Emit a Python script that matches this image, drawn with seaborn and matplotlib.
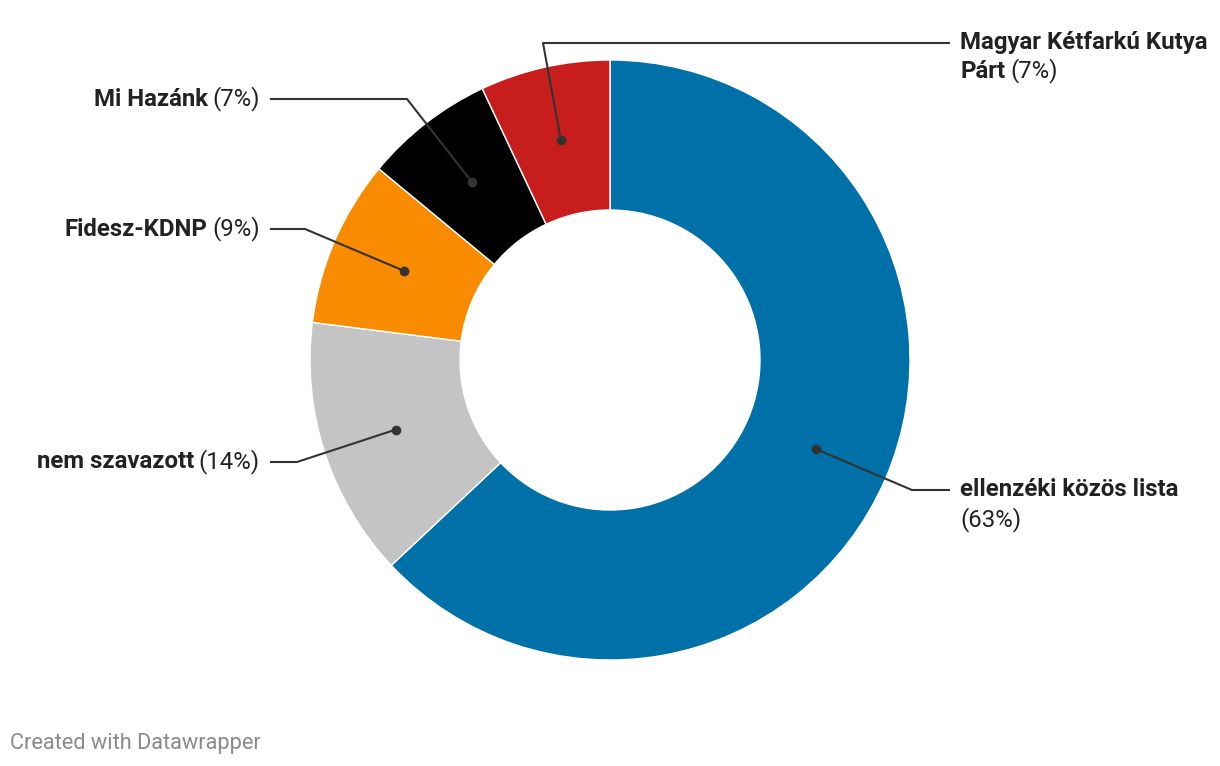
"""Donut chart: Hungarian party vote shares."""

import numpy as np
import matplotlib
matplotlib.use('Agg')
import matplotlib.pyplot as plt
import seaborn as sns

sns.set_theme(style="white")
plt.rcParams['font.family'] = ['Roboto', 'DejaVu Sans']

# Data (clockwise from 12 o'clock)
parties = ['ellenzéki közös lista', 'nem szavazott', 'Fidesz-KDNP',
           'Mi Hazánk', 'Magyar Kétfarkú Kutya Párt']
label_lines = [['ellenzéki közös lista', ''], ['nem szavazott'], ['Fidesz-KDNP'],
               ['Mi Hazánk'], ['Magyar Kétfarkú Kutya', 'Párt']]
shares = [63, 14, 9, 7, 7]
colors = ['#0070a8', '#c4c4c4', '#f88b00', '#000000', '#c71e1d']

# label layout in pixel space: (side, label y, elbow x)
label_layout = [('right', 490, 912), ('left', 462, 297), ('left', 229, 305),
                ('left', 99, 407), ('right', 43, 543)]

FS = 17.3
W, H = 1220, 766
fig = plt.figure(figsize=(W / 100, H / 100), dpi=100)
ax = fig.add_axes([0, 0, 1, 1])
ax.set_xlim(0, W)
ax.set_ylim(0, H)
ax.set_aspect('equal')
ax.axis('off')

cx, cy = 610, H - 360
r_out, ring = 300, 150

ax.pie(shares, colors=colors, startangle=90, counterclock=False,
       center=(cx, cy), radius=r_out,
       wedgeprops=dict(width=ring, edgecolor='white', linewidth=1))
ax.set_xlim(0, W)
ax.set_ylim(0, H)

total = sum(shares)
start = 90.0
r_mid = r_out - ring / 2
for lines, val, (side, ly, ex) in zip(label_lines, shares, label_layout):
    sweep = 360.0 * val / total
    mid = np.deg2rad(start - sweep / 2)
    start -= sweep
    dx, dy = cx + r_mid * np.cos(mid), cy + r_mid * np.sin(mid)
    ly = H - ly
    if side == 'right':
        hx, tx = 950, 960
    else:
        hx, tx = 270, 260
    ax.plot([dx, ex, hx], [dy, ly, ly], color='#333333', lw=1.5,
            solid_capstyle='butt', zorder=3)
    ax.plot(dx, dy, 'o', color='#333333', ms=6, zorder=4)

    pct = f'({val}%)'
    if side == 'left':
        t = ax.text(tx, ly, pct, ha='right', va='center', fontsize=FS,
                    color='#222222')
        fig.canvas.draw()
        bb = t.get_window_extent()
        ax.text(bb.x0 - 5, ly, lines[0], ha='right', va='center', fontsize=FS,
                fontweight='bold', color='#222222')
    elif lines[1] == '':
        ax.text(tx, ly, lines[0], ha='left', va='center', fontsize=FS,
                fontweight='bold', color='#222222')
        ax.text(tx, ly - 30, pct, ha='left', va='center', fontsize=FS,
                color='#222222')
    else:
        ax.text(tx, ly, lines[0], ha='left', va='center', fontsize=FS,
                fontweight='bold', color='#222222')
        t = ax.text(tx, ly - 28, lines[1], ha='left', va='center', fontsize=FS,
                    fontweight='bold', color='#222222')
        fig.canvas.draw()
        bb = t.get_window_extent()
        ax.text(bb.x1 + 5, ly - 28, pct, ha='left', va='center', fontsize=FS,
                color='#222222')

fig.text(10 / W, 1 - 743 / H, 'Created with Datawrapper', ha='left', va='center',
         fontsize=15.7, color='#8a8a8a')

plt.savefig('out.png', dpi=100)
plt.close()
